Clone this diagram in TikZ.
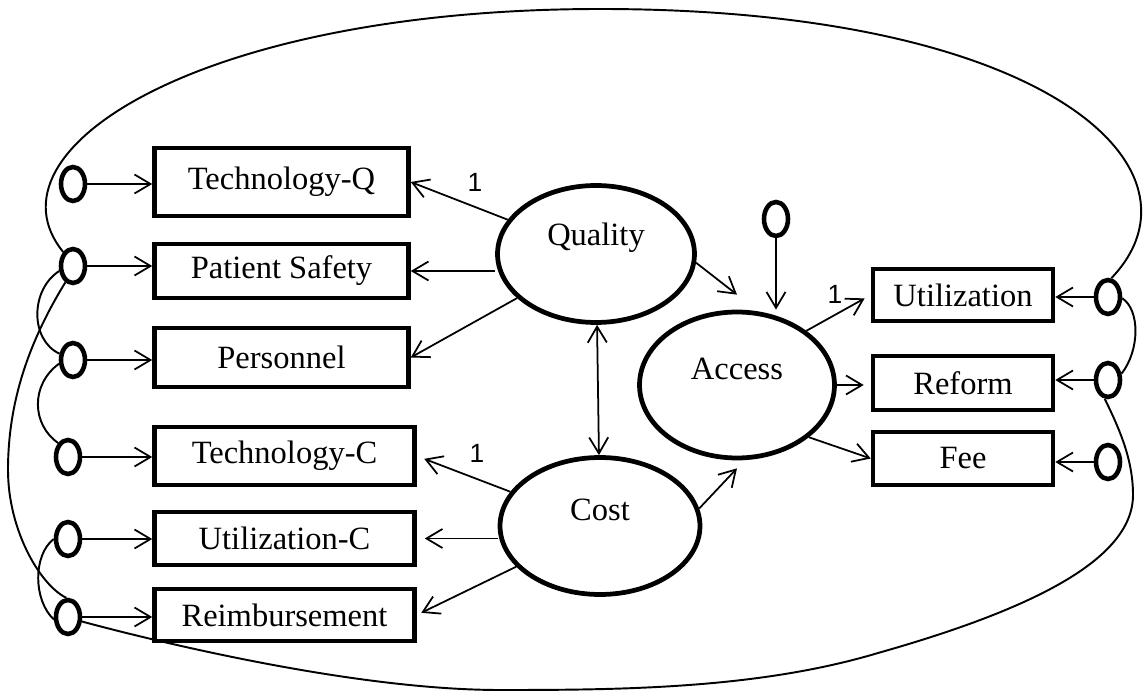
\documentclass[tikz,border=0pt]{standalone}
\usepackage{fontspec}
\setmainfont{Liberation Serif}
\newfontfamily\onefont{Liberation Sans}
\usetikzlibrary{arrows.meta,shapes.geometric}
\tikzset{
  >= {Straight Barb[length=0.32cm,width=0.38cm]},
  lv/.style 2 args={ellipse, draw, line width=2.7pt, inner sep=0pt, minimum width=#1, minimum height=#2},
  ob/.style 2 args={rectangle, draw, line width=2.6pt, inner sep=0pt, minimum width=#1, minimum height=#2},
  er/.style={ellipse, draw, line width=2.6pt, inner sep=0pt, minimum width=0.48cm, minimum height=0.68cm},
  pa/.style={->, line width=1pt},
  cv/.style={line width=1.1pt},
  one/.style={font=\onefont\fontsize{15}{15}\selectfont, inner sep=0pt}
}

\begin{document}
\begin{tikzpicture}[x=0.02cm, y=-0.02cm, font=\fontsize{18.5}{20}\selectfont]
  \useasboundingbox (0,0) rectangle (1144,692);
  % latent variables
  \node[lv={3.94cm}{2.74cm}, label={[yshift=0.32cm]center:Quality}] (quality) at (596,254) {};
  \node[lv={3.9cm}{2.92cm}, label={[yshift=0.32cm]center:Access}] (access) at (737,385) {};
  \node[lv={4cm}{2.74cm}, label={[yshift=0.32cm]center:Cost}] (cost) at (600,526) {};
  % indicators
  \node[ob={5.08cm}{1.36cm}] (tq) at (281.5,182) {Technology-Q};
  \node[ob={5.08cm}{1.08cm}] (ps) at (281.5,271) {Patient Safety};
  \node[ob={5.08cm}{1.18cm}] (pe) at (281.5,357.5) {Personnel};
  \node[ob={5.2cm}{1.16cm}] (tc) at (284.5,456) {Technology-C};
  \node[ob={5.2cm}{1.06cm}] (uc) at (284.5,538.5) {Utilization-C};
  \node[ob={5.2cm}{1.04cm}] (re) at (284.5,615) {Reimbursement};
  \node[ob={3.6cm}{1.04cm}] (ut) at (963,295) {Utilization};
  \node[ob={3.6cm}{1.08cm}] (rf) at (963,383) {Reform};
  \node[ob={3.6cm}{1.06cm}] (fe) at (963,458.5) {Fee};
  % errors
  \node[er] (e1) at (73,184) {};
  \node[er] (e2) at (73,266) {};
  \node[er] (e3) at (73,360) {};
  \node[er] (e4) at (68,457) {};
  \node[er] (e5) at (68,539) {};
  \node[er] (e6) at (68,617) {};
  \node[er] (eut) at (1108,297) {};
  \node[er] (erf) at (1108,380) {};
  \node[er] (efe) at (1108,462) {};
  \node[er] (eac) at (776,219) {};
  % fixed loadings
  \node[one] (w1) at (475,182) {1};
  \node[one] (w2) at (477,453) {1};
  \node[one] (w3) at (835,294) {1};

  \draw[pa] (e1) -- (e1 -| tq.west);
  \draw[pa] (e2) -- (e2 -| ps.west);
  \draw[pa] (e3) -- (e3 -| pe.west);
  \draw[pa] (e4) -- (e4 -| tc.west);
  \draw[pa] (e5) -- (e5 -| uc.west);
  \draw[pa] (e6) -- (e6 -| re.west);
  \draw[pa] (eut) -- (eut -| ut.east);
  \draw[pa] (erf) -- (erf -| rf.east);
  \draw[pa] (efe) -- (efe -| fe.east);
  \draw[pa] (eac) -- (eac |- access.north);

  \draw[pa] (quality) -- (tq.east);
  \draw[pa] (ps.east -| quality.west) -- (ps.east);
  \draw[pa] (quality) -- (pe.east);
  \draw[pa, shorten >=0.16cm] (cost) -- (tc.east);
  \draw[pa, shorten >=0.16cm] (uc.east -| cost.west) -- (uc.east);
  \draw[pa, shorten >=0.1cm] (cost) -- (re.east);
  \draw[<->, line width=1pt] (quality) -- (cost);
  \draw[pa] (quality.-5) -- ([yshift=0.3cm]access.north);
  \draw[pa] (cost.10) -- ([yshift=-0.16cm]access.south);
  \draw[pa, shorten >=0.14cm] (access.38) -- (ut.west);
  \draw[pa, shorten >=0.14cm] (access.east) -- (access.east -| rf.west);
  \draw[pa] (access.-36) -- (fe.west);

  % covariances
  \draw[cv] (e2.125) .. controls (-20,150) and (200,9) .. (600,9)
    .. controls (1050,9) and (1215,170) .. (eut.80);
  \draw[cv] (e2.200) .. controls (30,290) and (30,340) .. (e3.155);
  \draw[cv] (e3.195) .. controls (30,385) and (32,425) .. (e4.125);
  \draw[cv] (e5.180) .. controls (33,555) and (33,600) .. (e6.190);
  \draw[cv] (e2.245) .. controls (30,340) and (8,400) .. (8,470)
    .. controls (8,530) and (40,585) .. (e6.95);
  \draw[cv] (eut.-5) .. controls (1140,310) and (1140,350) .. (erf.25);
  \draw[cv] (erf.260) .. controls (1120,430) and (1133,460) .. (1133,495)
    .. controls (1133,560) and (1030,610) .. (878,653)
    .. controls (758,689) and (620,690) .. (500,690)
    .. controls (350,690) and (147,639) .. (e6.-18);
\end{tikzpicture}
\end{document}
